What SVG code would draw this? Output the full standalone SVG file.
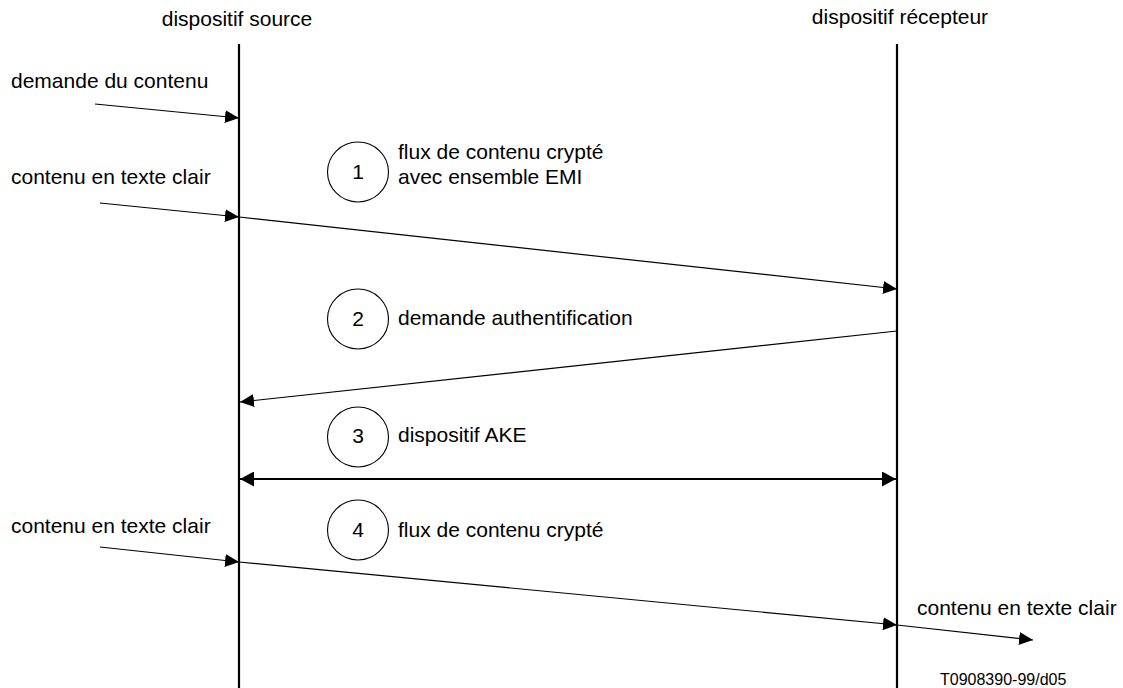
<svg xmlns="http://www.w3.org/2000/svg" width="1123" height="688" viewBox="0 0 1123 688">
  <style>
    text { font-family: "Liberation Sans", Arial, sans-serif; font-size: 21px; fill: #000; }
    .mid { text-anchor: middle; }
    .life { stroke: #000; stroke-width: 2.2; fill: none; }
    .msg { stroke: #000; stroke-width: 1.2; fill: none; }
    .bold { stroke: #000; stroke-width: 2.2; fill: none; }
    .step { stroke: #000; stroke-width: 1.1; fill: #fff; }
    .ref { font-size: 16px; }
  </style>
  <defs>
    <marker id="head" markerUnits="userSpaceOnUse" markerWidth="14" markerHeight="13" refX="14" refY="6.5" orient="auto">
      <path d="M0,0 L14,6.5 L0,13 Z" fill="#000"/>
    </marker>
    <marker id="headBig" markerUnits="userSpaceOnUse" markerWidth="14" markerHeight="15" refX="14" refY="7.5" orient="auto-start-reverse">
      <path d="M0,0 L14,7.5 L0,15 Z" fill="#000"/>
    </marker>
  </defs>

  <rect width="1123" height="688" fill="#fff"/>

  <!-- lifelines -->
  <g id="source">
    <text class="mid" x="237" y="26">dispositif source</text>
    <line class="life" x1="239" y1="44" x2="239" y2="688"/>
  </g>
  <g id="recepteur">
    <text class="mid" x="900" y="24">dispositif récepteur</text>
    <line class="life" x1="897" y1="44" x2="897" y2="688"/>
  </g>

  <!-- external inputs / outputs -->
  <g id="label-demande">
    <text x="11" y="88">demande du contenu</text>
  </g>
  <g id="label-clair-1">
    <text x="11" y="184">contenu en texte clair</text>
  </g>
  <g id="label-clair-2">
    <text x="11" y="533">contenu en texte clair</text>
  </g>
  <g id="label-clair-out">
    <text x="917" y="615">contenu en texte clair</text>
  </g>

  <!-- numbered steps -->
  <g id="step1">
    <ellipse class="step" cx="358" cy="172" rx="30.5" ry="30"/>
    <text class="mid" x="358" y="179">1</text>
    <text x="398" y="159">flux de contenu crypté</text>
    <text x="398" y="184">avec ensemble EMI</text>
  </g>
  <g id="step2">
    <ellipse class="step" cx="358" cy="319" rx="30.5" ry="30"/>
    <text class="mid" x="358" y="326">2</text>
    <text x="398" y="325">demande authentification</text>
  </g>
  <g id="step3">
    <ellipse class="step" cx="358" cy="437" rx="30.5" ry="30"/>
    <text class="mid" x="358" y="443">3</text>
    <text x="398" y="442">dispositif AKE</text>
  </g>
  <g id="step4">
    <ellipse class="step" cx="358" cy="530" rx="30.5" ry="30"/>
    <text class="mid" x="358" y="537">4</text>
    <text x="398" y="537">flux de contenu crypté</text>
  </g>

  <!-- messages -->
  <g id="connectors">
    <line class="msg" x1="95" y1="104" x2="239" y2="118" marker-end="url(#head)"/>
    <line class="msg" x1="100" y1="203" x2="239" y2="217" marker-end="url(#head)"/>
    <line class="msg" x1="239" y1="217" x2="897" y2="289" marker-end="url(#head)"/>
    <line class="msg" x1="897" y1="331" x2="240" y2="402" marker-end="url(#head)"/>
    <line class="bold" x1="240" y1="479" x2="896" y2="479" marker-start="url(#headBig)" marker-end="url(#headBig)"/>
    <line class="msg" x1="100" y1="547" x2="239" y2="562" marker-end="url(#head)"/>
    <line class="msg" x1="239" y1="562" x2="897" y2="625" marker-end="url(#head)"/>
    <line class="msg" x1="897" y1="625" x2="1033" y2="640" marker-end="url(#head)"/>
  </g>

  <g id="reference">
    <text class="ref" x="940" y="685">T0908390-99/d05</text>
  </g>
</svg>
